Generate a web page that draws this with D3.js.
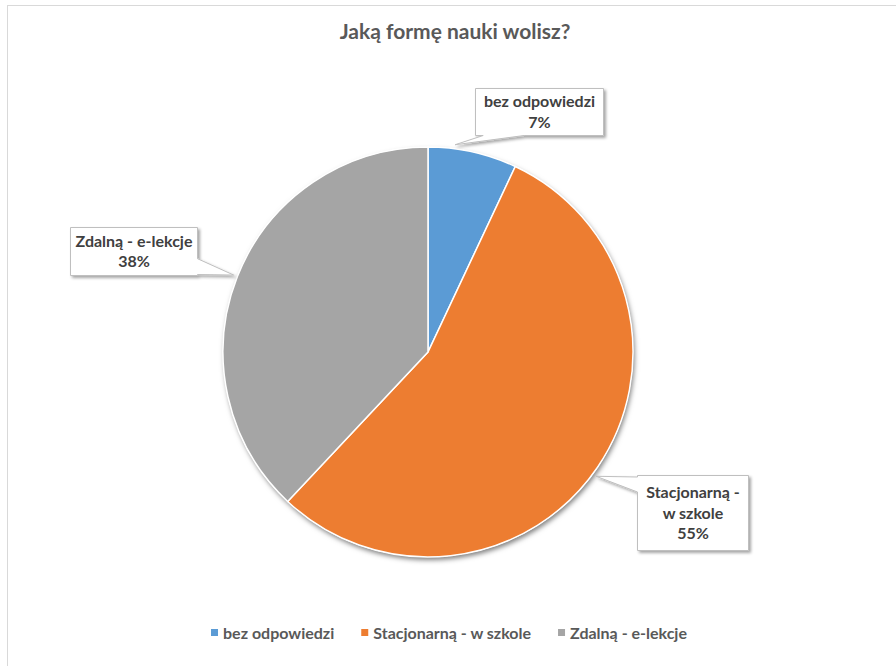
<!DOCTYPE html>
<html>
<head>
<meta charset="utf-8">
<script src="https://cdn.jsdelivr.net/npm/d3@7"></script>
<style>
  body { margin: 0; background: #fff; }
  svg { display: block; font-family: Lato, "Open Sans", sans-serif; }
</style>
</head>
<body>
<svg id="chart" width="896" height="666"></svg>
<script>
const title = "Jaką formę nauki wolisz?";
const categories = ["bez odpowiedzi", "Stacjonarną - w szkole", "Zdalną - e-lekcje"];
const values = [7, 55, 38];
const labelLines = [["bez odpowiedzi"], ["Stacjonarną -", "w szkole"], ["Zdalną - e-lekcje"]];
const colors = ["#5B9BD5", "#ED7D31", "#A5A5A5"];

const svg = d3.select("#chart");
const width = 896, height = 666;
const cx = 428, cy = 352, radius = 205;

const defs = svg.append("defs");
const shadow = defs.append("filter").attr("id", "shadow")
    .attr("x", "-20%").attr("y", "-20%").attr("width", "150%").attr("height", "150%");
shadow.append("feDropShadow")
    .attr("dx", 2).attr("dy", 2).attr("stdDeviation", 1.8)
    .attr("flood-color", "#000").attr("flood-opacity", 0.35);
const pieShadow = defs.append("filter").attr("id", "pieShadow")
    .attr("x", "-10%").attr("y", "-10%").attr("width", "120%").attr("height", "125%");
pieShadow.append("feDropShadow")
    .attr("dx", 1.5).attr("dy", 3).attr("stdDeviation", 2.5)
    .attr("flood-color", "#000").attr("flood-opacity", 0.5);

// chart border
svg.append("rect")
    .attr("x", 7.5).attr("y", 5.5)
    .attr("width", 900).attr("height", 680)
    .attr("fill", "#fff")
    .attr("stroke", "#d9d9d9").attr("stroke-width", 1);

// title
svg.append("text")
    .attr("x", 455).attr("y", 39)
    .attr("text-anchor", "middle")
    .attr("font-size", "21px")
    .attr("font-weight", "bold")
    .attr("fill", "#595959")
    .text(title);

// pie
const pie = d3.pie().sort(null).value(d => d);
const arcs = pie(values);
const arc = d3.arc().innerRadius(0).outerRadius(radius);

const g = svg.append("g").attr("transform", `translate(${cx},${cy})`);
g.append("circle").attr("r", radius).attr("fill", "#fff").attr("filter", "url(#pieShadow)");
g.selectAll("path.slice")
    .data(arcs)
    .enter()
    .append("path")
    .attr("class", "slice")
    .attr("d", arc)
    .attr("fill", (d, i) => colors[i])
    .attr("stroke", "#fff")
    .attr("stroke-width", 1.5);

// data callouts (box positions from the original layout)
const boxes = [
    { x: 475.5, y: 88.5, w: 128, h: 47 },
    { x: 637.5, y: 475.5, w: 111, h: 75 },
    { x: 70.5, y: 227.5, w: 127, h: 48 }
];

function calloutPath(b, tx, ty) {
    const bcx = b.x + b.w / 2, bcy = b.y + b.h / 2;
    const dx = (tx - bcx) / b.w, dy = (ty - bcy) / b.h;
    const x0 = b.x, x1 = b.x + b.w, y0 = b.y, y1 = b.y + b.h;
    const p = d3.path();
    if (Math.abs(dy) >= Math.abs(dx)) {
        const a = dx < 0 ? b.x + b.w * 0.06 : b.x + b.w * 0.6;
        const c = dx < 0 ? b.x + b.w * 0.38 : b.x + b.w * 0.94;
        if (dy > 0) {
            p.moveTo(x0, y0); p.lineTo(x1, y0); p.lineTo(x1, y1);
            p.lineTo(c, y1); p.lineTo(tx, ty); p.lineTo(a, y1); p.lineTo(x0, y1);
        } else {
            p.moveTo(x0, y0); p.lineTo(a, y0); p.lineTo(tx, ty); p.lineTo(c, y0);
            p.lineTo(x1, y0); p.lineTo(x1, y1); p.lineTo(x0, y1);
        }
    } else {
        const a = dy < 0 ? b.y + b.h * 0.02 : b.y + b.h * 0.65;
        const c = dy < 0 ? b.y + b.h * 0.22 : b.y + b.h * 0.98;
        if (dx > 0) {
            p.moveTo(x0, y0); p.lineTo(x1, y0); p.lineTo(x1, a);
            p.lineTo(tx, ty); p.lineTo(x1, c); p.lineTo(x1, y1); p.lineTo(x0, y1);
        } else {
            p.moveTo(x0, y0); p.lineTo(x1, y0); p.lineTo(x1, y1); p.lineTo(x0, y1);
            p.lineTo(x0, c); p.lineTo(tx, ty); p.lineTo(x0, a);
        }
    }
    p.closePath();
    return p.toString();
}

// tip offsets (angle nudges) follow where the leader lines land in the original
const tipNudge = [-0.09, 0.04, 0];
arcs.forEach((d, i) => {
    const mid = (d.startAngle + d.endAngle) / 2 + tipNudge[i];
    const tx = cx + (radius + 4) * Math.sin(mid);
    const ty = cy - (radius + 4) * Math.cos(mid);
    const b = boxes[i];
    svg.append("path")
        .attr("d", calloutPath(b, tx, ty))
        .attr("fill", "#fff")
        .attr("stroke", "#bfbfbf")
        .attr("stroke-width", 1)
        .attr("filter", "url(#shadow)");
    const lines = labelLines[i].concat([values[i] + "%"]);
    const lh = 20.5;
    const startY = b.y + b.h / 2 - (lines.length - 1) * lh / 2 + 5.5;
    const t = svg.append("text")
        .attr("text-anchor", "middle")
        .attr("font-size", "16px")
        .attr("font-weight", "bold")
        .attr("fill", "#404040");
    lines.forEach((ln, j) => {
        t.append("tspan")
            .attr("x", b.x + b.w / 2)
            .attr("y", startY + j * lh)
            .text(ln);
    });
});

// legend
const legend = svg.append("g").attr("transform", "translate(0,633)");
const items = legend.selectAll("g")
    .data(categories)
    .enter()
    .append("g");
items.append("rect")
    .attr("width", 7).attr("height", 7)
    .attr("y", -4)
    .attr("fill", (d, i) => colors[i]);
items.append("text")
    .attr("x", 12)
    .attr("y", 5.5)
    .attr("font-size", "16px")
    .attr("font-weight", "bold")
    .attr("fill", "#595959")
    .text(d => d);
let lx = 0;
const offsets = [];
items.each(function () {
    offsets.push(lx);
    lx += 12 + d3.select(this).select("text").node().getComputedTextLength() + 27;
});
const total = lx - 27;
const startX = 449 - total / 2;
items.attr("transform", (d, i) => `translate(${startX + offsets[i]},0)`);
</script>
</body>
</html>
